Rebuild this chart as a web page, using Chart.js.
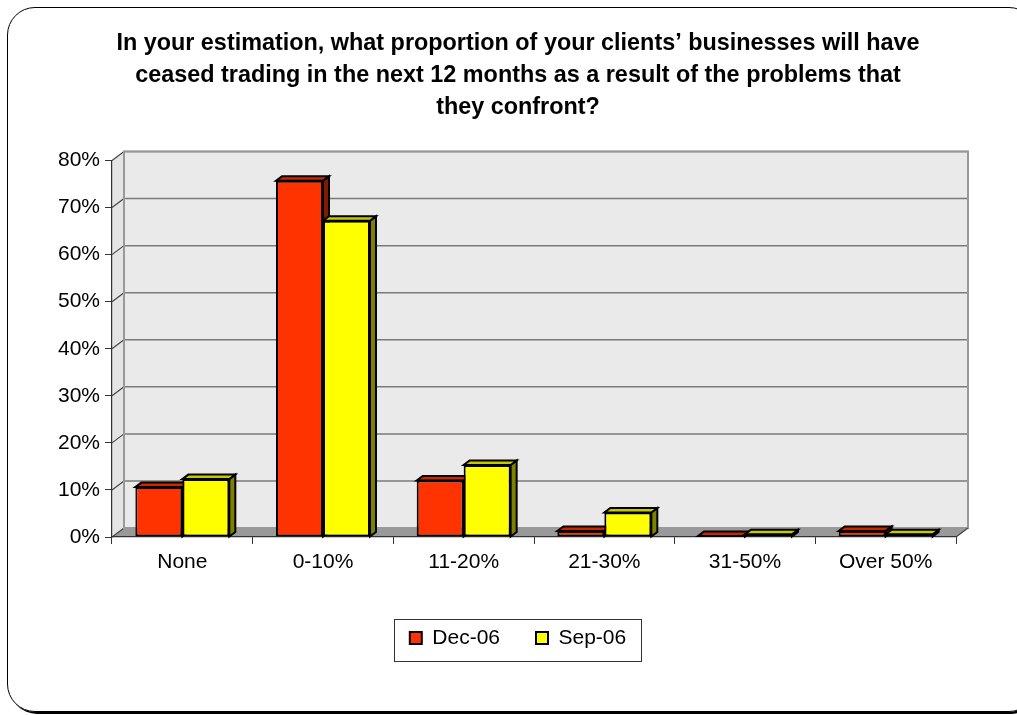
<!DOCTYPE html>
<html>
<head>
<meta charset="utf-8">
<script src="https://cdn.jsdelivr.net/npm/chart.js@4.4.1/dist/chart.umd.min.js"></script>
<style>
  html, body { margin: 0; padding: 0; background: #fff; overflow: hidden; }
  #wrap { position: relative; width: 1017px; height: 715px; }
  #frame {
    position: absolute; left: 7px; top: 7px; width: 1030px; height: 705px;
    box-sizing: border-box; border: 1.5px solid #000; border-radius: 28px;
    box-shadow: 2px 2px 0 #000;
  }
  canvas { position: absolute; left: 0; top: 0; }
</style>
</head>
<body>
<div id="wrap">
  <div id="frame"></div>
  <canvas id="chart" width="1017" height="715"></canvas>
</div>
<script>
// 数据
const categories = ['None', '0-10%', '11-20%', '21-30%', '31-50%', 'Over 50%'];
const dec06 = [10.6, 75.7, 12.0, 1.3, 0.2, 1.3];
const sep06 = [12.3, 67.2, 15.3, 5.2, 0.6, 0.6];
const yTicks = [0, 10, 20, 30, 40, 50, 60, 70, 80];

const titleLines = [
    'In your estimation, what proportion of your clients\u2019 businesses will have',
    'ceased trading in the next 12 months as a result of the problems that',
    'they confront?'
];

// 立体效果的偏移量
const DX = 12, DY = -9;       // 墙面深度
const BDX = 6, BDY = -4.5;    // 柱子深度

function poly(ctx, pts) {
    ctx.beginPath();
    ctx.moveTo(pts[0][0], pts[0][1]);
    for (let i = 1; i < pts.length; i++) ctx.lineTo(pts[i][0], pts[i][1]);
    ctx.closePath();
}

function shade(hex, f) {
    const n = parseInt(hex.slice(1), 16);
    const r = Math.round(((n >> 16) & 255) * f);
    const g = Math.round(((n >> 8) & 255) * f);
    const b = Math.round((n & 255) * f);
    return `rgb(${r}, ${g}, ${b})`;
}

// 背景墙、地板和网格线
const frame3d = {
    id: 'frame3d',
    beforeDraw(chart) {
        const { ctx, chartArea: a, scales: { y } } = chart;
        ctx.save();

        // 地板
        ctx.fillStyle = '#999999';
        poly(ctx, [[a.left, a.bottom], [a.right, a.bottom], [a.right + DX, a.bottom + DY], [a.left + DX, a.bottom + DY]]);
        ctx.fill();

        // 左侧墙
        ctx.fillStyle = '#e4e4e4';
        poly(ctx, [[a.left, a.top], [a.left + DX, a.top + DY], [a.left + DX, a.bottom + DY], [a.left, a.bottom]]);
        ctx.fill();

        // 后墙
        ctx.fillStyle = '#eaeaea';
        ctx.fillRect(a.left + DX, a.top + DY, a.right - a.left, a.bottom - a.top);

        // 网格线
        yTicks.forEach(v => {
            const py = y.getPixelForValue(v);
            ctx.strokeStyle = '#7a7a7a';
            ctx.lineWidth = 1.5;
            ctx.beginPath();
            ctx.moveTo(a.left + DX, py + DY);
            ctx.lineTo(a.right + DX, py + DY);
            ctx.stroke();
            ctx.strokeStyle = '#444';
            ctx.lineWidth = 1.2;
            ctx.beginPath();
            ctx.moveTo(a.left, py);
            ctx.lineTo(a.left + DX, py + DY);
            ctx.stroke();
        });

        // 墙面边框
        ctx.strokeStyle = '#999';
        ctx.lineWidth = 2;
        ctx.strokeRect(a.left + DX, a.top + DY, a.right - a.left, a.bottom - a.top);

        // 地板右端斜线
        ctx.strokeStyle = '#444';
        ctx.lineWidth = 1.2;
        ctx.beginPath();
        ctx.moveTo(a.right, a.bottom);
        ctx.lineTo(a.right + DX, a.bottom + DY);
        ctx.stroke();
        ctx.restore();
    },

    // 柱子的顶面和侧面，正面由 Chart.js 绘制
    beforeDatasetsDraw(chart) {
        const ctx = chart.ctx;
        ctx.save();
        ctx.lineWidth = 2;
        ctx.strokeStyle = '#000';
        const metas = chart.getSortedVisibleDatasetMetas();
        categories.forEach((c, i) => {
            metas.forEach(meta => {
                const bar = meta.data[i];
                const { x, y, width, base } = bar.getProps(['x', 'y', 'width', 'base'], true);
                const x0 = x - width / 2, x1 = x + width / 2;
                const color = chart.data.datasets[meta.index].backgroundColor;
                ctx.fillStyle = shade(color, 0.5);
                poly(ctx, [[x1, y], [x1 + BDX, y + BDY], [x1 + BDX, base + BDY], [x1, base]]);
                ctx.fill();
                ctx.stroke();
                ctx.fillStyle = shade(color, 0.78);
                poly(ctx, [[x0, y], [x1, y], [x1 + BDX, y + BDY], [x0 + BDX, y + BDY]]);
                ctx.fill();
                ctx.stroke();
            });
        });
        ctx.restore();
    },

    // 图例外框
    afterDraw(chart) {
        const ctx = chart.ctx;
        const hb = chart.legend.legendHitBoxes;
        if (!hb || !hb.length) return;
        const last = hb[hb.length - 1];
        const l = Math.round(hb[0].left - 16) + 0.5;
        const r = Math.round(last.left + last.width + 15) + 0.5;
        const t = Math.round(hb[0].top - 9) + 0.5;
        const b = Math.round(hb[0].top + hb[0].height + 12) + 0.5;
        ctx.save();
        ctx.strokeStyle = '#333';
        ctx.lineWidth = 1;
        ctx.strokeRect(l, t, r - l, b - t);
        ctx.restore();
    }
};

Chart.defaults.font.family = '"Liberation Sans", Arial, sans-serif';
Chart.defaults.color = '#000';

new Chart(document.getElementById('chart'), {
    type: 'bar',
    data: {
        labels: categories,
        datasets: [{
            label: 'Dec-06',
            data: dec06,
            backgroundColor: '#ff3300',
            borderColor: '#000',
            borderWidth: 2,
            borderSkipped: false
        }, {
            label: 'Sep-06',
            data: sep06,
            backgroundColor: '#ffff00',
            borderColor: '#000',
            borderWidth: 2,
            borderSkipped: false
        }]
    },
    options: {
        responsive: false,
        animation: false,
        layout: { padding: { left: 50, right: 31, top: 8, bottom: 56.5 } },
        categoryPercentage: 0.668,
        barPercentage: 1.0,
        scales: {
            x: {
                grid: { drawOnChartArea: false, tickLength: 7, color: '#333', offset: true },
                border: { color: '#333', width: 1.2 },
                ticks: { font: { size: 21 }, padding: 6, color: '#000' },
                afterFit(scale) { scale.height = 54.5; }
            },
            y: {
                min: yTicks[0],
                max: yTicks[yTicks.length - 1],
                grid: { drawOnChartArea: false, tickLength: 7, color: '#333' },
                border: { color: '#333', width: 1.2 },
                ticks: {
                    stepSize: yTicks[1] - yTicks[0],
                    font: { size: 21 },
                    padding: 5,
                    color: '#000',
                    callback: v => v + '%'
                },
                afterFit(scale) { scale.width = 62; }
            },
            // 右侧留白，给墙面深度腾出位置
            yRight: {
                position: 'right',
                grid: { display: false },
                border: { display: false },
                ticks: { display: false },
                afterFit(scale) { scale.width = 30; }
            }
        },
        plugins: {
            title: {
                display: true,
                text: titleLines,
                font: { size: 23.4, weight: 'bold', lineHeight: '32px' },
                color: '#000',
                padding: { top: 20, bottom: 36.5 }
            },
            legend: {
                position: 'bottom',
                labels: {
                    boxWidth: 12,
                    boxHeight: 12,
                    padding: 36,
                    font: { size: 21 },
                    color: '#000'
                }
            },
            tooltip: { enabled: false }
        }
    },
    plugins: [frame3d]
});
</script>
</body>
</html>
